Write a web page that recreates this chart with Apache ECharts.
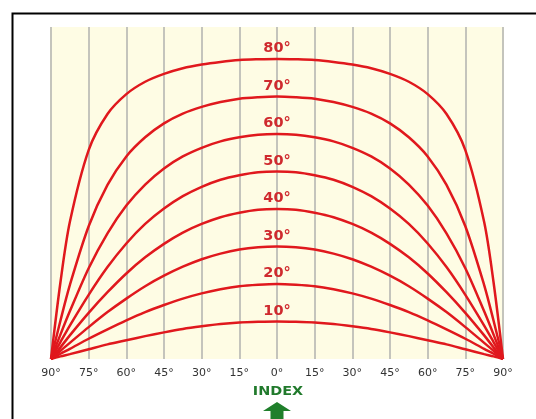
<!DOCTYPE html>
<html>
<head>
<meta charset="utf-8">
<script src="https://cdn.jsdelivr.net/npm/echarts@6/dist/echarts.min.js"></script>
<style>
html,body{margin:0;padding:0;background:#fff;}
#chart{width:536px;height:419px;}
</style>
</head>
<body>
<div id="chart"></div>
<script>
// Hour angle positions (one half, 0° to 90°); the chart is symmetric about 0°
const xHalf = [0, 7.5, 15, 22.5, 30, 37.5, 45, 52.5, 60, 67.5, 75, 82.5, 86.25, 90];
const curveNames = ['10°', '20°', '30°', '40°', '50°', '60°', '70°', '80°'];
const h10 = [10, 9.9, 9.7, 9.3, 8.7, 8.0, 7.1, 6.1, 5.0, 3.9, 2.6, 1.3, 0.7, 0];
const h20 = [20, 19.8, 19.4, 18.6, 17.5, 16.1, 14.4, 12.5, 10.3, 7.9, 5.4, 2.7, 1.4, 0];
const h30 = [30, 29.8, 29.2, 28.1, 26.6, 24.6, 22.2, 19.4, 16.1, 12.5, 8.5, 4.3, 2.2, 0];
const h40 = [40, 39.8, 39.0, 37.8, 36.0, 33.7, 30.7, 27.1, 22.8, 17.8, 12.3, 6.3, 3.1, 0];
const h50 = [50, 49.8, 49.0, 47.8, 45.9, 43.4, 40.1, 36.0, 30.8, 24.5, 17.1, 8.9, 4.5, 0];
const h60 = [60, 59.8, 59.1, 58.0, 56.3, 54.0, 50.8, 46.5, 40.9, 33.5, 24.2, 12.7, 6.5, 0];
const h70 = [70, 69.8, 69.4, 68.5, 67.2, 65.4, 62.8, 59.1, 54.0, 46.4, 35.4, 19.7, 10.2, 0];
const h80 = [80, 79.9, 79.7, 79.2, 78.5, 77.5, 76.0, 73.9, 70.6, 65.3, 55.7, 36.5, 20.4, 0];
const profiles = [h10, h20, h30, h40, h50, h60, h70, h80];
const xTicks = [-90, -75, -60, -45, -30, -15, 0, 15, 30, 45, 60, 75, 90];

function buildData(profile, name) {
  const pts = [];
  for (let i = xHalf.length - 1; i >= 1; i--) pts.push([-xHalf[i], profile[i]]);
  pts.push({
    value: [0, profile[0]],
    label: {
      show: true, position: 'top', distance: 3, formatter: name,
      color: '#cf2a2e', fontFamily: 'DejaVu Sans', fontWeight: 'bold', fontSize: 14.5
    }
  });
  for (let i = 1; i < xHalf.length; i++) pts.push([xHalf[i], profile[i]]);
  return pts;
}

const chart = echarts.init(document.getElementById('chart'), null, {renderer: 'canvas'});
const series = profiles.map((p, k) => ({
  type: 'line',
  name: curveNames[k],
  data: buildData(p, curveNames[k]),
  smooth: 0.3,
  showSymbol: true,
  showAllSymbol: true,
  symbol: 'circle',
  symbolSize: 0,
  lineStyle: {color: '#e0181d', width: 2.5},
  itemStyle: {color: '#e0181d'},
  silent: true,
  z: 3
}));

chart.setOption({
  animation: false,
  backgroundColor: '#ffffff',
  grid: {
    left: 51, right: 33, top: 27, bottom: 60,
    show: true, backgroundColor: '#fefce4', borderWidth: 0
  },
  xAxis: {
    type: 'value', min: -90, max: 90, interval: 15,
    axisLine: {show: false},
    axisTick: {show: false},
    splitLine: {show: true, lineStyle: {color: '#c4c4bc', width: 2}},
    axisLabel: {
      margin: 9,
      color: '#333333', fontFamily: 'DejaVu Sans', fontSize: 11,
      formatter: v => (xTicks.indexOf(v) >= 0 ? Math.abs(v) + '°' : '')
    }
  },
  yAxis: {
    type: 'value', min: 0, max: 88.5,
    show: false,
    splitLine: {show: false}
  },
  series: series,
  graphic: [
    {
      type: 'rect', silent: true, z: 10,
      shape: {x: 12.5, y: 13.5, width: 700, height: 600},
      style: {fill: 'none', stroke: '#000000', lineWidth: 2}
    },
    {
      type: 'text', silent: true, z: 10,
      x: 278, y: 392, scaleX: 1.2,
      style: {
        text: 'INDEX', fill: '#217a2c', fontFamily: 'DejaVu Sans',
        fontWeight: 'bold', fontSize: 12, align: 'center', verticalAlign: 'middle'
      }
    },
    {
      type: 'polygon', silent: true, z: 10,
      shape: {points: [[277, 402], [291, 411], [283.5, 411], [283.5, 419], [270.5, 419], [270.5, 411], [263, 411]]},
      style: {fill: '#1f7f2b'}
    }
  ]
});
</script>
</body>
</html>
